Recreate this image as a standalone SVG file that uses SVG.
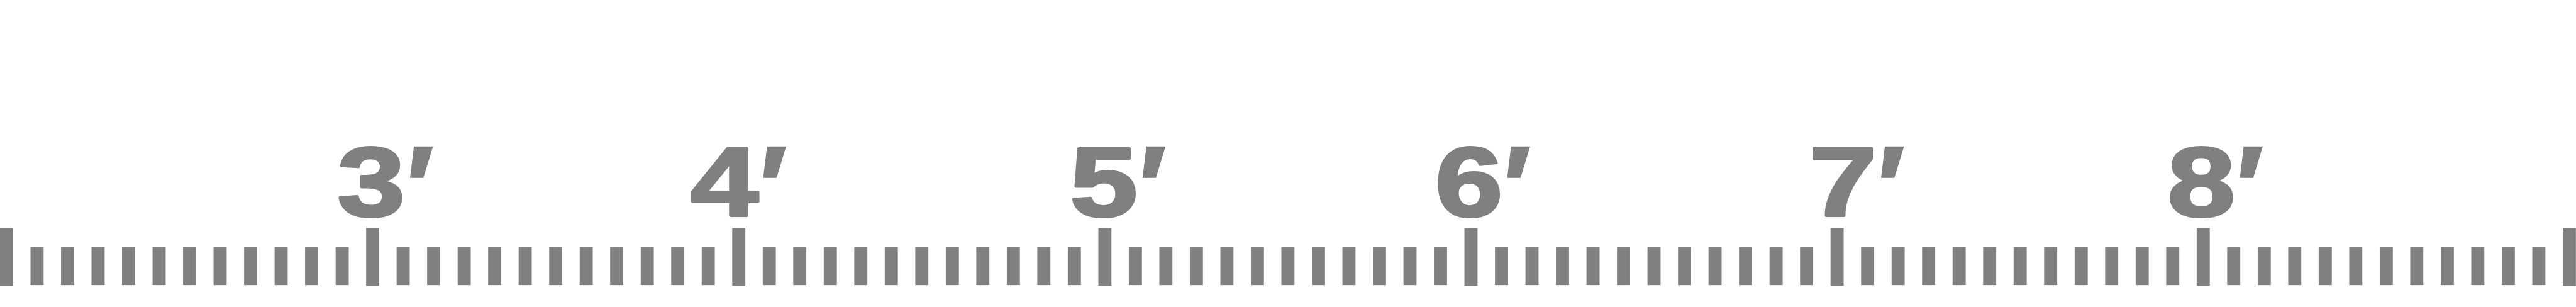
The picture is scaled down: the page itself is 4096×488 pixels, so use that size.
<svg xmlns="http://www.w3.org/2000/svg" xmlns:xlink="http://www.w3.org/1999/xlink" width="4096" height="488" viewBox="0 0 4096 488">
<style>
.t{fill:#808080}
.d{font-family:"Liberation Sans",Arial,sans-serif;font-weight:bold;font-size:294px;fill:#808080;stroke:#808080;stroke-width:8;stroke-linejoin:round;text-anchor:middle}
.p{font-family:"Liberation Sans",Arial,sans-serif;font-weight:bold;font-size:360px;fill:#808080;stroke:#808080;stroke-width:3;text-anchor:middle}
</style>
<defs>
<rect id="mi" class="t" y="740" width="39.3" height="115"/>
<rect id="ma" class="t" y="684" width="39.3" height="172.7"/>
</defs>
<rect width="4096" height="488" fill="#ffffff"/>
<g transform="scale(0.53)">
<g id="ticks">
<use xlink:href="#ma" x="0"/>
<use xlink:href="#mi" x="91.5"/><use xlink:href="#mi" x="183.1"/><use xlink:href="#mi" x="274.6"/><use xlink:href="#mi" x="366.1"/><use xlink:href="#mi" x="457.7"/><use xlink:href="#mi" x="549.2"/><use xlink:href="#mi" x="640.7"/><use xlink:href="#mi" x="732.3"/><use xlink:href="#mi" x="823.8"/><use xlink:href="#mi" x="915.3"/><use xlink:href="#mi" x="1006.9"/>
<use xlink:href="#ma" x="1098.4"/>
<use xlink:href="#mi" x="1189.9"/><use xlink:href="#mi" x="1281.4"/><use xlink:href="#mi" x="1373.0"/><use xlink:href="#mi" x="1464.5"/><use xlink:href="#mi" x="1556.0"/><use xlink:href="#mi" x="1647.6"/><use xlink:href="#mi" x="1739.1"/><use xlink:href="#mi" x="1830.6"/><use xlink:href="#mi" x="1922.2"/><use xlink:href="#mi" x="2013.7"/><use xlink:href="#mi" x="2105.2"/>
<use xlink:href="#ma" x="2196.8"/>
<use xlink:href="#mi" x="2288.3"/><use xlink:href="#mi" x="2379.8"/><use xlink:href="#mi" x="2471.4"/><use xlink:href="#mi" x="2562.9"/><use xlink:href="#mi" x="2654.4"/><use xlink:href="#mi" x="2746.0"/><use xlink:href="#mi" x="2837.5"/><use xlink:href="#mi" x="2929.0"/><use xlink:href="#mi" x="3020.6"/><use xlink:href="#mi" x="3112.1"/><use xlink:href="#mi" x="3203.6"/>
<use xlink:href="#ma" x="3295.2"/>
<use xlink:href="#mi" x="3386.7"/><use xlink:href="#mi" x="3478.2"/><use xlink:href="#mi" x="3569.7"/><use xlink:href="#mi" x="3661.3"/><use xlink:href="#mi" x="3752.8"/><use xlink:href="#mi" x="3844.3"/><use xlink:href="#mi" x="3935.9"/><use xlink:href="#mi" x="4027.4"/><use xlink:href="#mi" x="4118.9"/><use xlink:href="#mi" x="4210.5"/><use xlink:href="#mi" x="4302.0"/>
<use xlink:href="#ma" x="4393.5"/>
<use xlink:href="#mi" x="4485.1"/><use xlink:href="#mi" x="4576.6"/><use xlink:href="#mi" x="4668.1"/><use xlink:href="#mi" x="4759.7"/><use xlink:href="#mi" x="4851.2"/><use xlink:href="#mi" x="4942.7"/><use xlink:href="#mi" x="5034.3"/><use xlink:href="#mi" x="5125.8"/><use xlink:href="#mi" x="5217.3"/><use xlink:href="#mi" x="5308.9"/><use xlink:href="#mi" x="5400.4"/>
<use xlink:href="#ma" x="5491.9"/>
<use xlink:href="#mi" x="5583.5"/><use xlink:href="#mi" x="5675.0"/><use xlink:href="#mi" x="5766.5"/><use xlink:href="#mi" x="5858.0"/><use xlink:href="#mi" x="5949.6"/><use xlink:href="#mi" x="6041.1"/><use xlink:href="#mi" x="6132.6"/><use xlink:href="#mi" x="6224.2"/><use xlink:href="#mi" x="6315.7"/><use xlink:href="#mi" x="6407.2"/><use xlink:href="#mi" x="6498.8"/>
<use xlink:href="#ma" x="6590.3"/>
<use xlink:href="#mi" x="6681.8"/><use xlink:href="#mi" x="6773.4"/><use xlink:href="#mi" x="6864.9"/><use xlink:href="#mi" x="6956.4"/><use xlink:href="#mi" x="7048.0"/><use xlink:href="#mi" x="7139.5"/><use xlink:href="#mi" x="7231.0"/><use xlink:href="#mi" x="7322.6"/><use xlink:href="#mi" x="7414.1"/><use xlink:href="#mi" x="7505.6"/><use xlink:href="#mi" x="7597.2"/>
<use xlink:href="#ma" x="7688.7"/>
</g>
<g id="label-3">
<text class="d" transform="translate(1113.4,646.7) scale(1.24,1)">3</text>
<text class="p" transform="translate(1260,688)">′</text>
</g>
<g id="label-4">
<text class="d" transform="translate(2173.8,646.7) scale(1.24,1)">4</text>
<text class="p" transform="translate(2319.8,688)">′</text>
</g>
<g id="label-5">
<text class="d" transform="translate(3311.2,646.7) scale(1.24,1)">5</text>
<text class="p" transform="translate(3457.9,688)">′</text>
</g>
<g id="label-6">
<text class="d" transform="translate(4407.2,646.7) scale(1.24,1)">6</text>
<text class="p" transform="translate(4551.5,688)">′</text>
</g>
<g id="label-7">
<text class="d" transform="translate(5528.7,646.7) scale(1.24,1)">7</text>
<text class="p" transform="translate(5673.5,688)">′</text>
</g>
<g id="label-8">
<text class="d" transform="translate(6604,646.7) scale(1.24,1)">8</text>
<text class="p" transform="translate(6750,688)">′</text>
</g>
</g>
</svg>
